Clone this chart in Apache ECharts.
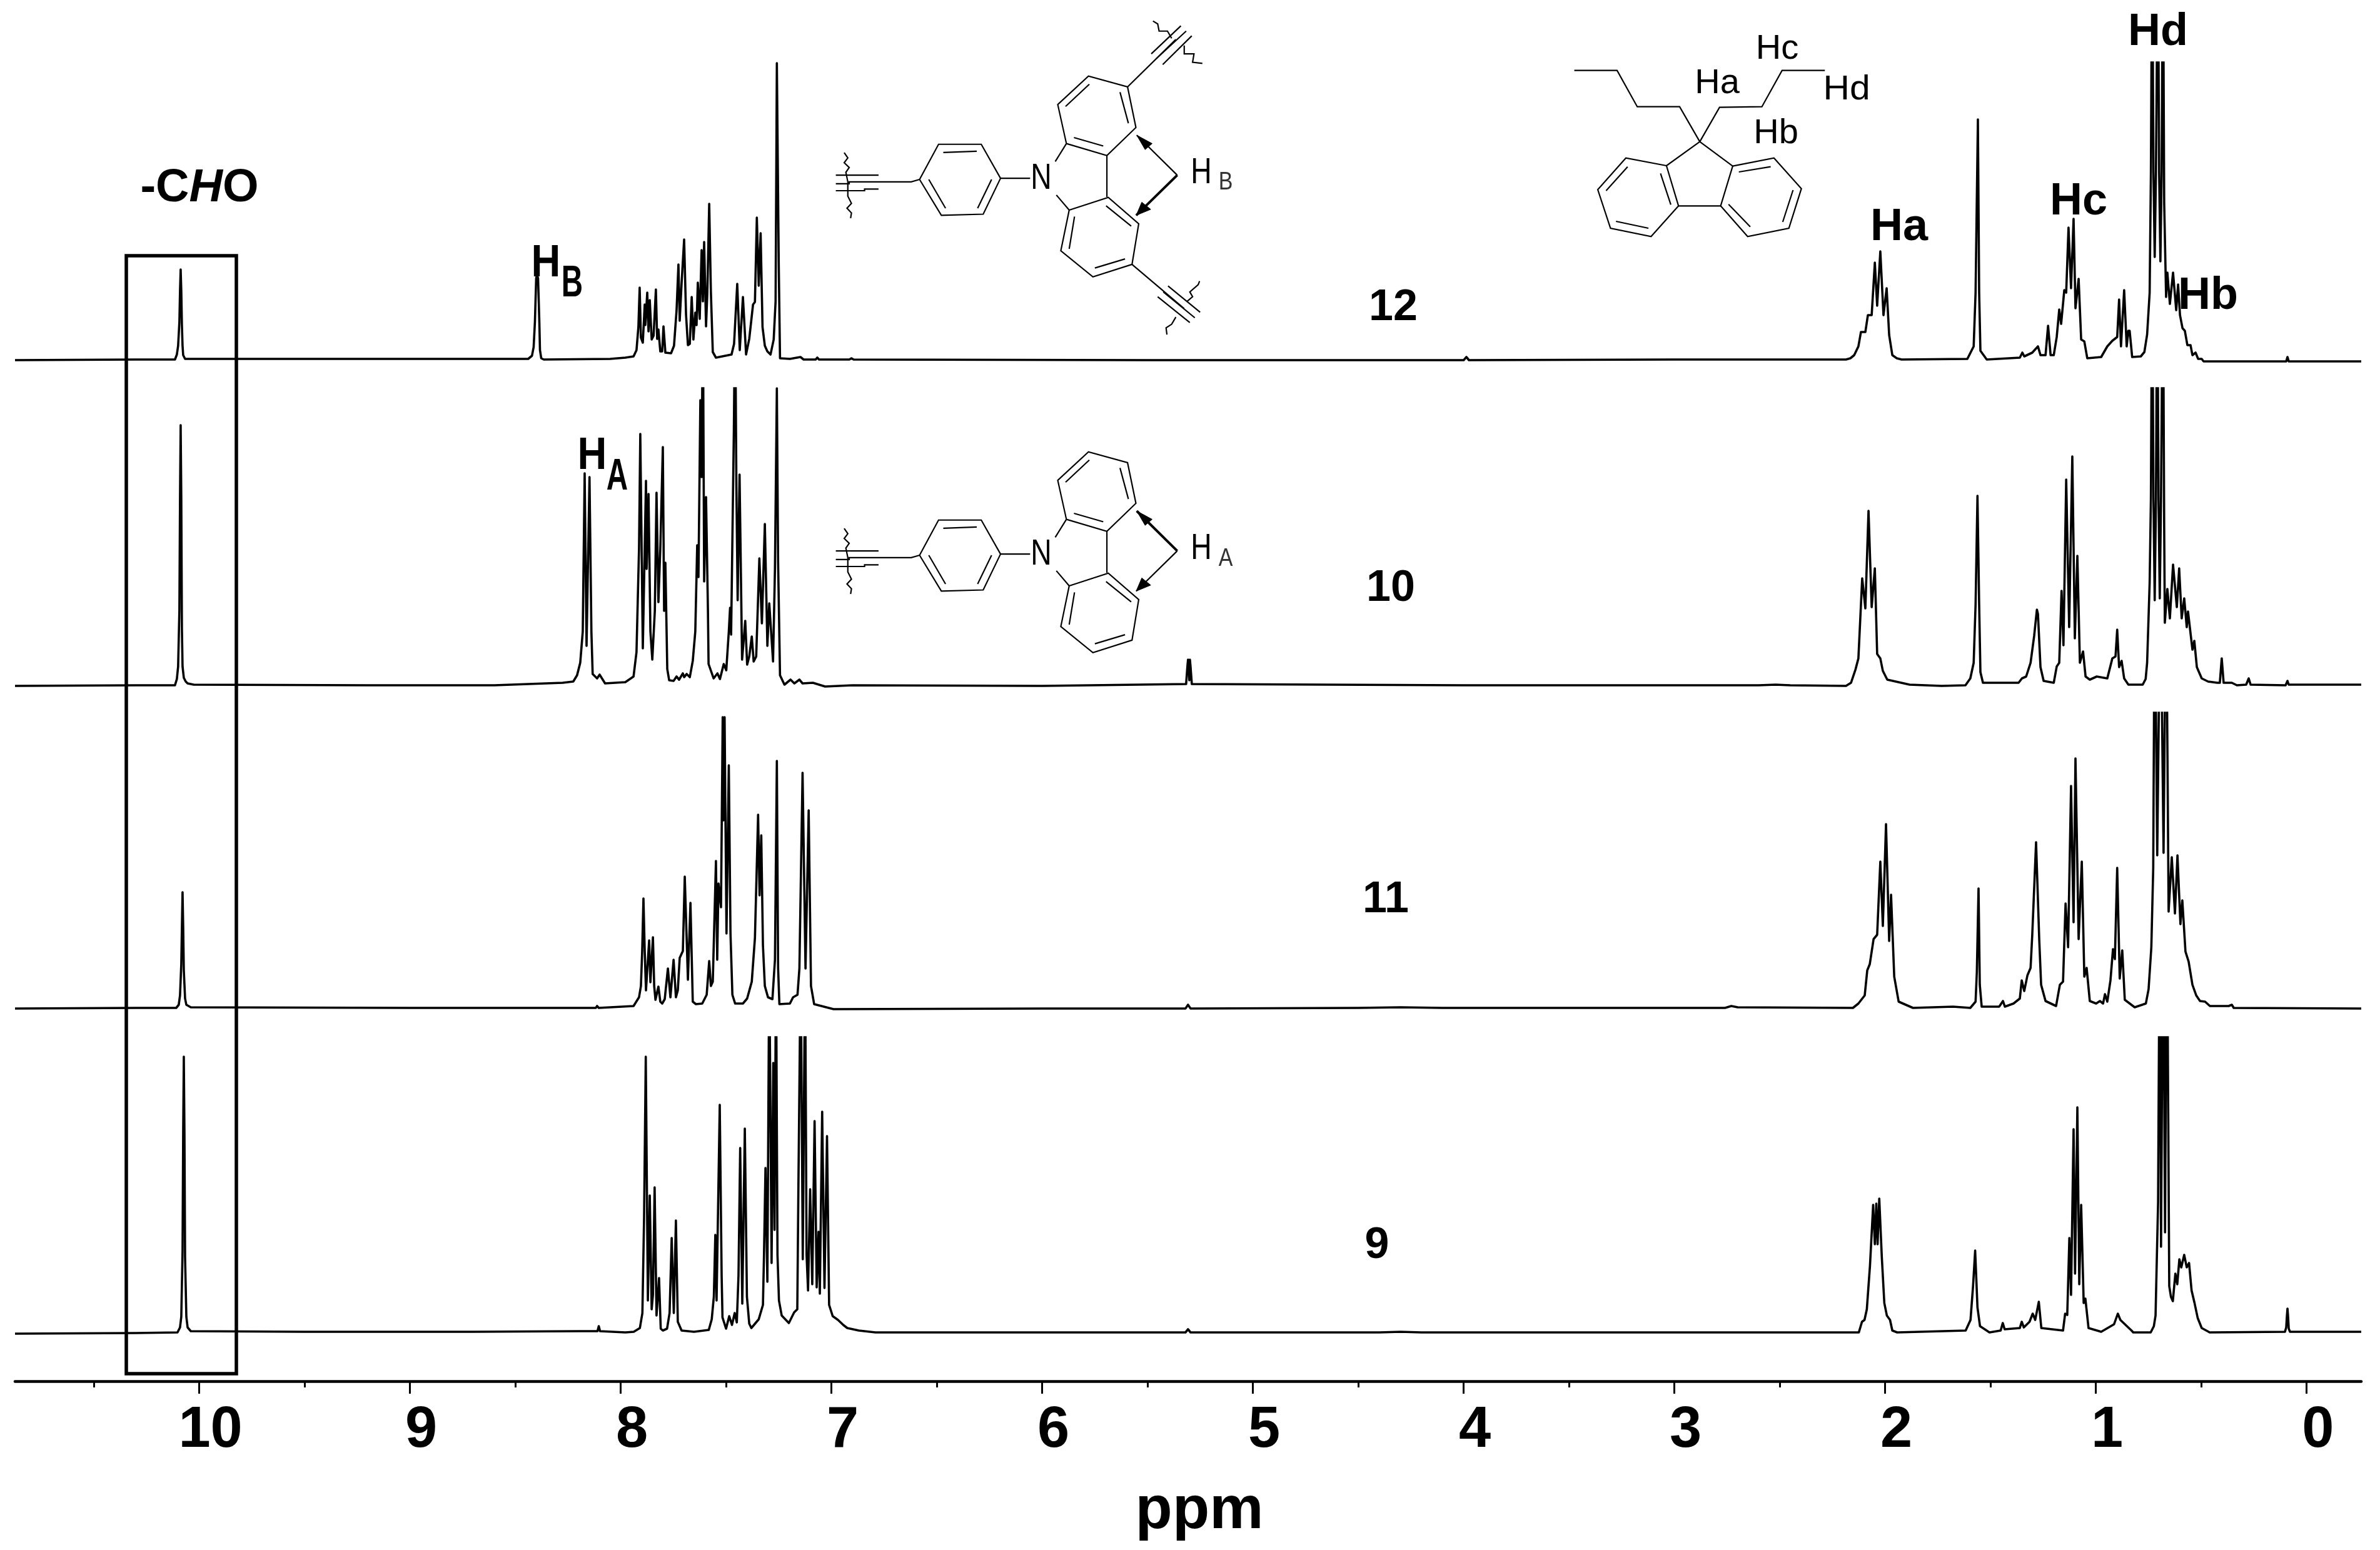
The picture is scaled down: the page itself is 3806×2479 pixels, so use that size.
<!DOCTYPE html>
<html>
<head>
<meta charset="utf-8">
<style>html,body{margin:0;padding:0;background:#fff}#c{width:3806px;height:2479px}</style>
<script src="https://cdn.jsdelivr.net/npm/echarts@6/dist/echarts.min.js"></script>
</head>
<body>
<div id="c"></div>
<script>
// Spectra: [chemical shift in ppm, intensity].
const trace12 = [[10.874,-1],[10.3,0],[10.115,0],[10.106,8],[10.100,22],[10.094,60],[10.091,110],[10.088,144],[10.085,110],[10.082,55],[10.079,22],[10.076,7],[10.067,1],[9.5,1],[8.8,1],[8.439,1],[8.421,6],[8.413,20],[8.407,60],[8.401,130],[8.398,135],[8.395,135],[8.392,130],[8.386,60],[8.383,15],[8.377,2],[8.365,0],[8.05,1],
[7.978,3],[7.939,5],[7.925,15],[7.916,52],[7.910,115],[7.904,35],[7.895,27],[7.886,88],[7.883,55],[7.874,107],[7.868,45],[7.862,95],[7.853,32],[7.844,38],[7.833,112],[7.827,33],[7.821,48],[7.812,13],[7.803,13],[7.797,53],[7.788,11],[7.761,10],[7.747,22],[7.735,78],[7.726,152],[7.720,62],[7.711,122],[7.699,192],[7.690,72],[7.681,23],[7.672,25],[7.663,100],[7.655,32],[7.646,75],[7.640,55],[7.634,123],[7.625,65],[7.616,175],[7.610,93],[7.604,188],[7.595,53],[7.589,105],[7.580,249],[7.572,108],[7.563,12],[7.548,3],[7.474,8],[7.462,25],[7.447,121],[7.435,15],[7.420,100],[7.405,8],[7.390,33],[7.372,88],[7.363,92],[7.354,227],[7.345,118],[7.336,202],[7.327,52],[7.316,22],[7.304,13],[7.289,8],[7.274,32],[7.265,93],[7.259,474],[7.250,152],[7.244,2],[7.197,1],[7.147,4],[7.132,0],[7.075,0],[7.067,3],[7.059,0],[6.915,0],[6.905,2],[6.895,0],[5.5,-1],[4.0,-1],[3.987,4],[3.975,-1],[3,0],
[2.186,0],[2.165,2],[2.147,7],[2.127,21],[2.115,44],[2.094,44],[2.082,71],[2.064,71],[2.049,155],[2.038,86],[2.023,173],[2.008,71],[1.993,114],[1.981,39],[1.966,7],[1.945,2],[1.922,0],[1.610,1],[1.580,21],[1.571,107],[1.560,384],[1.554,107],[1.548,14],[1.518,0],[1.361,3],[1.349,11],[1.340,5],[1.302,11],[1.275,21],[1.263,7],[1.239,7],[1.227,54],[1.215,7],[1.200,7],[1.186,36],[1.174,80],[1.165,57],[1.150,111],[1.141,107],[1.130,211],[1.118,114],[1.106,225],[1.097,82],[1.082,129],[1.070,32],[1.055,29],[1.041,2],[0.975,4],[0.946,21],[0.922,30],[0.899,36],[0.890,96],[0.881,21],[0.866,111],[0.854,21],[0.846,46],[0.840,46],[0.828,4],[0.787,5],[0.770,12],[0.757,40],[0.745,107],[0.739,300],[0.733,700],[0.727,300],[0.721,164],[0.715,300],[0.706,700],[0.700,300],[0.694,157],[0.688,300],[0.682,700],[0.676,250],[0.667,100],[0.661,139],[0.649,89],[0.634,139],[0.619,79],[0.610,120],[0.601,71],[0.589,50],[0.578,46],[0.566,23],[0.551,23],[0.542,7],[0.527,11],[0.515,1],[0.498,1],[0.489,-3],[0.115,-3],[0.097,-3],[0.091,4],[0.085,-3],[-0.259,-3]];

const trace10 = [[10.874,-1],[10.3,0],[10.115,0],[10.106,10],[10.100,30],[10.094,120],[10.091,300],[10.088,416],[10.085,300],[10.082,90],[10.079,30],[10.073,12],[10.064,6],[10.055,3],[10.026,1],[9.2,0],[8.6,0],
[8.275,4],[8.225,6],[8.207,16],[8.192,36],[8.180,86],[8.171,339],[8.162,63],[8.148,333],[8.139,86],[8.133,18],[8.112,11],[8.100,17],[8.074,3],[7.978,5],[7.939,14],[7.925,53],[7.913,219],[7.907,402],[7.895,59],[7.880,327],[7.877,186],[7.868,306],[7.859,86],[7.850,41],[7.838,119],[7.830,308],[7.821,133],[7.812,219],[7.800,381],[7.794,119],[7.788,196],[7.779,26],[7.770,8],[7.749,7],[7.735,14],[7.723,9],[7.705,19],[7.699,13],[7.687,18],[7.672,13],[7.658,39],[7.646,86],[7.637,224],[7.631,173],[7.622,456],[7.616,333],[7.610,620],[7.604,166],[7.595,301],[7.586,119],[7.583,34],[7.559,11],[7.541,19],[7.529,10],[7.511,34],[7.499,24],[7.487,86],[7.481,124],[7.476,81],[7.463,409],[7.457,620],[7.451,316],[7.445,136],[7.436,337],[7.424,41],[7.409,103],[7.400,33],[7.390,46],[7.378,78],[7.369,38],[7.357,46],[7.342,203],[7.330,99],[7.316,258],[7.304,63],[7.295,131],[7.277,38],[7.268,186],[7.259,475],[7.253,196],[7.244,16],[7.223,1],[7.194,9],[7.176,3],[7.152,9],[7.137,3],[7.088,4],[7.03,-2],[6.9,0],[6.0,-1],
[5.317,2],[5.311,30],[5.308,41],[5.305,28],[5.302,8],[5.299,41],[5.296,30],[5.290,2],[4,0],[2.6,0],[2.52,1],[2.45,0],
[2.186,-1],[2.162,4],[2.141,25],[2.127,43],[2.109,171],[2.094,123],[2.079,279],[2.064,125],[2.049,187],[2.038,50],[2.023,43],[2.011,23],[1.990,9],[1.884,1],[1.732,-1],[1.619,0],[1.596,11],[1.580,36],[1.571,129],[1.562,303],[1.554,129],[1.548,21],[1.536,4],[1.367,4],[1.351,11],[1.331,14],[1.310,36],[1.293,79],[1.280,121],[1.275,114],[1.263,29],[1.248,7],[1.200,4],[1.186,30],[1.174,36],[1.163,151],[1.154,64],[1.141,329],[1.127,93],[1.112,366],[1.100,75],[1.088,207],[1.076,36],[1.061,54],[1.049,14],[1.029,9],[0.996,14],[0.946,11],[0.922,43],[0.907,46],[0.899,89],[0.890,29],[0.878,39],[0.866,11],[0.846,1],[0.778,1],[0.764,10],[0.757,36],[0.745,164],[0.739,300],[0.733,700],[0.727,300],[0.721,136],[0.715,300],[0.709,700],[0.703,300],[0.697,139],[0.691,300],[0.682,700],[0.676,250],[0.673,100],[0.661,154],[0.649,107],[0.634,193],[0.616,125],[0.605,187],[0.593,107],[0.581,139],[0.569,93],[0.563,118],[0.542,57],[0.533,71],[0.521,29],[0.498,11],[0.468,6],[0.424,4],[0.412,4],[0.403,43],[0.394,4],[0.355,4],[0.331,0],[0.287,1],[0.275,11],[0.266,1],[0.100,0],[0.097,1],[0.091,7],[0.085,1],[-0.259,1]];

const trace11 = [[10.874,-1],[10.3,0],[10.109,0],[10.097,5],[10.091,20],[10.085,70],[10.082,130],[10.079,185],[10.076,130],[10.073,60],[10.067,15],[10.061,5],[10.040,1],[9,0],[8.4,0],[8.118,0],[8.112,3],[8.104,0],
[7.939,3],[7.913,17],[7.904,35],[7.898,91],[7.892,175],[7.886,91],[7.880,28],[7.865,108],[7.859,41],[7.847,113],[7.841,35],[7.835,13],[7.821,34],[7.812,10],[7.803,7],[7.791,14],[7.776,63],[7.764,17],[7.749,77],[7.738,17],[7.729,28],[7.720,80],[7.705,91],[7.696,210],[7.681,45],[7.669,168],[7.658,10],[7.643,6],[7.613,7],[7.592,21],[7.580,75],[7.572,35],[7.563,42],[7.548,235],[7.542,77],[7.536,199],[7.524,161],[7.516,465],[7.512,300],[7.507,465],[7.498,119],[7.487,388],[7.479,119],[7.470,21],[7.457,7],[7.420,7],[7.400,15],[7.378,42],[7.363,112],[7.348,309],[7.341,180],[7.333,276],[7.325,100],[7.316,35],[7.301,17],[7.280,14],[7.268,77],[7.259,395],[7.253,63],[7.247,6],[7.197,7],[7.182,17],[7.161,21],[7.152,63],[7.137,376],[7.123,63],[7.108,316],[7.097,35],[7.082,6],[6.990,-2],[6,-1],[5.32,-1],[5.308,5],[5.296,-1],[4.5,0],[4.3,1],[4.1,0],[2.76,0],[2.73,3],[2.70,1],
[2.153,0],[2.127,7],[2.097,20],[2.085,60],[2.073,70],[2.055,110],[2.038,117],[2.023,234],[2.011,131],[1.996,294],[1.981,107],[1.972,181],[1.957,50],[1.936,10],[1.868,0],[1.678,2],[1.596,0],[1.571,10],[1.565,57],[1.557,191],[1.551,37],[1.542,2],[1.459,2],[1.441,11],[1.432,2],[1.391,7],[1.361,15],[1.352,44],[1.340,27],[1.325,52],[1.310,64],[1.302,117],[1.284,265],[1.269,110],[1.260,37],[1.239,11],[1.189,3],[1.171,37],[1.156,42],[1.144,167],[1.132,97],[1.118,355],[1.106,137],[1.097,399],[1.082,110],[1.067,234],[1.055,50],[1.044,64],[1.029,11],[0.999,7],[0.981,11],[0.966,7],[0.957,22],[0.946,10],[0.931,44],[0.919,94],[0.910,78],[0.899,224],[0.887,47],[0.875,92],[0.863,13],[0.816,1],[0.763,7],[0.750,30],[0.737,97],[0.728,224],[0.721,700],[0.709,244],[0.694,700],[0.679,248],[0.667,700],[0.655,154],[0.640,241],[0.625,151],[0.613,244],[0.599,134],[0.590,172],[0.575,90],[0.560,74],[0.542,37],[0.524,20],[0.506,11],[0.482,10],[0.459,3],[0.370,3],[0.355,5],[0.346,0],[-0.259,-1]];

const trace9 = [[10.874,-2],[10.3,-1],[10.103,0],[10.091,8],[10.085,25],[10.079,130],[10.076,320],[10.073,441],[10.070,320],[10.067,120],[10.061,25],[10.055,8],[10.040,2],[9.5,1],[8.7,1],[8.2,2],[8.11,2],[8.104,10],[8.098,2],
[7.978,0],[7.938,1],[7.909,7],[7.897,31],[7.889,184],[7.881,441],[7.871,51],[7.862,219],[7.853,37],[7.847,60],[7.839,232],[7.830,27],[7.825,27],[7.818,87],[7.810,6],[7.800,3],[7.780,6],[7.768,31],[7.758,151],[7.748,31],[7.738,179],[7.729,17],[7.711,3],[7.652,1],[7.582,4],[7.568,21],[7.558,57],[7.551,156],[7.545,51],[7.530,364],[7.521,91],[7.517,24],[7.500,6],[7.485,26],[7.472,12],[7.459,31],[7.449,16],[7.441,91],[7.433,295],[7.423,46],[7.411,326],[7.401,57],[7.390,14],[7.380,7],[7.345,21],[7.325,44],[7.320,124],[7.313,263],[7.304,81],[7.295,600],[7.284,111],[7.276,431],[7.270,164],[7.263,600],[7.256,124],[7.249,51],[7.236,27],[7.202,15],[7.177,32],[7.162,37],[7.157,224],[7.146,600],[7.136,117],[7.125,600],[7.118,124],[7.111,67],[7.101,229],[7.091,77],[7.080,338],[7.070,72],[7.061,161],[7.055,62],[7.044,353],[7.033,71],[7.021,314],[7.011,44],[6.994,26],[6.969,20],[6.944,12],[6.925,7],[6.870,3],[6.791,0],[5.9,0],[5.32,0],[5.308,5],[5.296,0],[4.4,0],[4.3,1],[4.2,0],[3,0],
[2.125,0],[2.110,17],[2.098,20],[2.087,37],[2.072,107],[2.057,204],[2.049,141],[2.042,206],[2.036,141],[2.028,214],[2.016,121],[2.004,47],[1.992,27],[1.977,20],[1.966,3],[1.943,0],[1.618,3],[1.595,20],[1.583,74],[1.573,131],[1.562,40],[1.550,10],[1.505,0],[1.452,3],[1.442,15],[1.433,5],[1.361,7],[1.352,17],[1.342,8],[1.315,17],[1.300,30],[1.288,20],[1.271,49],[1.259,7],[1.156,3],[1.146,30],[1.136,28],[1.126,151],[1.118,60],[1.106,325],[1.099,94],[1.088,360],[1.079,77],[1.070,204],[1.058,47],[1.050,54],[1.035,7],[0.975,1],[0.914,13],[0.896,30],[0.884,20],[0.853,10],[0.831,3],[0.823,0],[0.740,0],[0.725,10],[0.717,27],[0.705,208],[0.697,700],[0.691,137],[0.681,700],[0.672,160],[0.663,700],[0.652,74],[0.644,57],[0.635,50],[0.623,94],[0.614,77],[0.604,117],[0.595,104],[0.581,124],[0.569,104],[0.558,111],[0.546,67],[0.532,47],[0.517,23],[0.498,7],[0.460,0],[0.103,1],[0.097,8],[0.094,25],[0.091,38],[0.088,25],[0.085,6],[0.079,1],[-0.259,1]];

const majorTicks = [0,1,2,3,4,5,6,7,8,9,10];
const minorTicks = [0.5,1.5,2.5,3.5,4.5,5.5,6.5,7.5,8.5,9.5,10.5];
const axisName = 'ppm';
const spectrumLabels = ['12','10','11','9'];

const FONT = '"Liberation Sans", Arial, sans-serif';
const X_MIN = -0.259, X_MAX = 10.874;

// One band per spectrum, stacked from top to bottom.
const bands = [
  {data: trace12, top: 100,  ymax: 475, ymin: -10, name: spectrumLabels[0]},
  {data: trace10, top: 621,  ymax: 475, ymin: -10, name: spectrumLabels[1]},
  {data: trace11, top: 1140, ymax: 472, ymin: -10, name: spectrumLabels[2]},
  {data: trace9,  top: 1659, ymax: 472, ymin: -78, name: spectrumLabels[3]}
];

const grids = bands.map(b => ({left: 24, width: 3752, top: b.top, height: b.ymax - b.ymin, containLabel: false}));
const yAxes = bands.map((b, i) => ({type: 'value', gridIndex: i, min: b.ymin, max: b.ymax, show: false}));
const xAxes = bands.map((b, i) => {
  const last = i === bands.length - 1;
  return {
    type: 'value', gridIndex: i, inverse: true, min: X_MIN, max: X_MAX, show: last, position: 'bottom',
    splitLine: {show: false},
    axisLine: {show: last, onZero: false, lineStyle: {color: '#000', width: 4.5}},
    axisTick: {show: last, length: 20, inside: false, lineStyle: {color: '#000', width: 3}, customValues: majorTicks},
    axisLabel: {show: last, customValues: majorTicks, margin: 34, color: '#000', fontFamily: FONT, fontWeight: 'bold', fontSize: 92, padding: [0, 0, 0, 36], hideOverlap: false},
    name: last ? axisName : '', nameLocation: 'middle', nameGap: 160,
    nameTextStyle: {color: '#000', fontFamily: FONT, fontWeight: 'bold', fontSize: 97, padding: [0, 0, 0, 36]}
  };
});
// Shorter half-ppm ticks on a twin axis of the bottom band.
xAxes.push({
  type: 'value', gridIndex: 3, inverse: true, min: X_MIN, max: X_MAX, position: 'bottom',
  splitLine: {show: false}, axisLine: {show: false, onZero: false},
  axisTick: {show: true, length: 10, lineStyle: {color: '#000', width: 3}, customValues: minorTicks},
  axisLabel: {show: false}
});

const series = bands.map((b, i) => ({
  type: 'line', name: b.name, xAxisIndex: i, yAxisIndex: i, data: b.data,
  showSymbol: false, symbol: 'none', smooth: false, sampling: null, clip: true, silent: true, animation: false,
  lineStyle: {color: '#000', width: 3.6, join: 'round', cap: 'butt'}
}));

// ---------- annotations (drawings, not data) ----------
const els = [];
function line(points, w, color) {
  els.push({type: 'polyline', silent: true, z: 20, shape: {points}, style: {stroke: color || '#000', lineWidth: w || 2.2, fill: null, lineJoin: 'miter'}});
}
function poly(points) {
  els.push({type: 'polygon', silent: true, z: 20, shape: {points}, style: {fill: '#000', stroke: '#000', lineWidth: 1}});
}
function text(t, x, y, font, opt) {
  opt = opt || {};
  els.push({type: 'text', silent: true, z: 21, x, y, scaleX: opt.sx || 1, scaleY: opt.sy || 1,
    style: {text: t, font: font + ' ' + FONT, fill: opt.color || '#000', align: 'center', verticalAlign: 'middle', rich: opt.rich}});
}

// selection box around the aldehyde peaks
els.push({type: 'rect', silent: true, z: 19, shape: {x: 202, y: 409, width: 176, height: 1788}, style: {stroke: '#000', lineWidth: 5.5, fill: null}});

// carbazole drawing, in a local frame
const rings = [
  [[382,750],[450,603],[603,603],[672,745],[610,895],[460,900],[382,750]],
  [[467,637],[587,632]], [[415,750],[475,870]], [[640,750],[590,870]],
  [[672,745],[778,745]],
  [[868,675],[908,600]],
  [[908,600],[1053,650],[1157,533],[1127,363],[987,318],[877,437],[908,600]],
  [[935,575],[1040,610]], [[1130,515],[1100,385]], [[905,445],[990,352]],
  [[1053,650],[1053,823]],
  [[872,815],[918,878]],
  [[918,878],[1058,825],[1167,935],[1143,1105],[1003,1157],[888,1048],[918,878]],
  [[1050,860],[1140,945]], [[1118,1082],[1010,1120]], [[937,905],[918,1040]],
  // ethynyl with wavy cut on the phenyl
  [[82,732],[235,732]], [[82,797],[185,797],[185,790],[235,790]], [[82,768],[130,768],[130,760],[352,760],[382,750]],
  [[112,638],[125,660],[112,680],[130,700],[118,720],[125,760],[125,820],[138,850],[122,870],[138,890],[135,912]]
];
const subst = [
  [[1127,363],[1300,165]],
  [[1212,225],[1318,108]], [[1230,245],[1337,130]], [[1253,270],[1357,150]],
  [[1218,88],[1235,100],[1240,130],[1270,130],[1285,160]], [[1330,190],[1330,225],[1365,225],[1360,260],[1395,265]],
  [[1143,1105],[1330,1290]],
  [[1272,1195],[1387,1305]], [[1255,1220],[1368,1328]], [[1235,1240],[1350,1348]],
  [[1385,1175],[1380,1190],[1350,1220],[1360,1240],[1340,1260]], [[1300,1325],[1285,1355],[1265,1370],[1268,1398]]
];
function carb(dy, withSubst, thickUp) {
  const m = p => [1300 + p[0] / 2.24, dy + p[1] / 2.613];
  rings.forEach(s => line(s.map(m)));
  if (withSubst) subst.forEach(s => line(s.map(m)));
  line([[1305,732],[1160,565]].map(m), thickUp ? 4 : 2.2);
  line([[1305,732],[1158,900]].map(m), thickUp ? 2.2 : 4);
  poly([[1160,565],[1215,600],[1190,625]].map(m));
  poly([[1158,900],[1178,845],[1210,875]].map(m));
  text('N', 1665, dy + 286, '58px', {sx: 0.8});
  text('H', 1921, dy + 277, '58px', {sx: 0.8});
}
carb(0, true, false);
text('B', 1960, 292, '40px', {sx: 0.85, color: '#333'});
carb(601, false, true);
text('A', 1960, 894, '40px', {sx: 0.85, color: '#333'});

// fluorene drawing
const fl = p => [2500 + p[0] / 2.85, 30 + p[1] / 3];
[
  [[50,248],[245,248],[337,422],[530,422],[622,590]],
  [[622,590],[712,425],[905,422],[997,248],[1192,248]],
  [[622,590],[470,705],[525,898],[717,898],[772,707],[622,590]],
  [[470,705],[285,668],[157,820],[215,1005],[400,1045],[525,898]],
  [[293,710],[195,825]], [[240,972],[388,1005]], [[443,742],[490,892]],
  [[772,707],[960,668],[1085,815],[1028,1005],[840,1045],[717,898]],
  [[800,735],[945,710]], [[1047,822],[1000,975]], [[753,890],[852,998]]
].forEach(s => line(s.map(fl)));
text('Hc', 2842, 79, '56px');
text('Ha', 2746, 134, '56px');
text('Hd', 2953, 144, '56px', {sx: 1.05});
text('Hb', 2840, 214, '56px');

// peak labels
text('-C{i|H}O', 319, 302, 'bold 74px', {rich: {i: {font: 'italic bold 74px ' + FONT}}});
text('Ha', 3037, 364, 'bold 72px');
text('Hc', 3324, 323, 'bold 72px');
text('Hd', 3451, 52, 'bold 72px');
text('Hb', 3531, 474, 'bold 72px');
text('H', 873, 422, 'bold 72px', {sx: 0.9});
text('B', 915, 455, 'bold 70px', {sx: 0.68});
text('H', 947, 730, 'bold 72px', {sx: 0.9});
text('A', 987, 764, 'bold 70px', {sx: 0.68});
text(spectrumLabels[0], 2228, 493, 'bold 70px');
text(spectrumLabels[1], 2224, 942, 'bold 70px');
text(spectrumLabels[2], 2216, 1440, 'bold 70px');
text(spectrumLabels[3], 2202, 1993, 'bold 70px');

const chart = echarts.init(document.getElementById('c'), null, {renderer: 'canvas'});
chart.setOption({
  backgroundColor: '#fff', animation: false,
  grid: grids, xAxis: xAxes, yAxis: yAxes, series, graphic: {elements: els}
});
</script>
</body>
</html>
